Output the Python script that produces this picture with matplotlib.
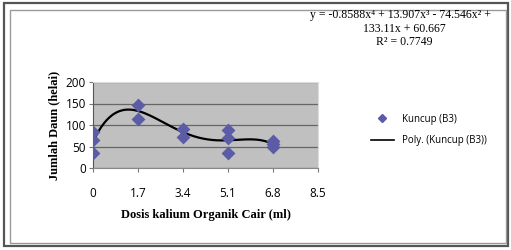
import numpy as np
import matplotlib
matplotlib.use('Agg')
import matplotlib.pyplot as plt
from matplotlib.patches import Rectangle
from matplotlib.lines import Line2D

# data (Kuncup B3)
dosis = [0, 0, 0, 1.7, 1.7, 3.4, 3.4, 5.1, 5.1, 5.1, 6.8, 6.8, 6.8]
daun = [83, 64, 36, 146, 113, 90, 72, 88, 69, 36, 62, 55, 48]

# trendline coefficients (from the equation on the chart)
koef = [-0.8588, 13.907, -74.546, 133.11, 60.667]

xticks = [0, 1.7, 3.4, 5.1, 6.8, 8.5]
yticks = [0, 50, 100, 150, 200]

serif = ['Liberation Serif', 'DejaVu Serif']
sans = 'Open Sans'
warna = '#5C5CA6'

fig = plt.figure(figsize=(5.11, 2.5), dpi=100)

# frame (double border)
fig.patches.append(Rectangle((4/511, 4/250), 504/511, 243/250, transform=fig.transFigure,
                             fill=False, edgecolor='#555555', lw=1.6))
fig.patches.append(Rectangle((10/511, 7/250), 496/511, 233/250, transform=fig.transFigure,
                             fill=False, edgecolor='#9a9a9a', lw=1.0))

ax = fig.add_axes([93/511, 82/250, 225/511, 86/250])
ax.set_facecolor('#C0C0C0')

xs = np.linspace(0, 6.8, 200)
ax.plot(xs, np.polyval(koef, xs), color='black', lw=1.6, zorder=3)
ax.scatter(dosis, daun, marker='D', s=50, color=warna, zorder=4, linewidths=0)

ax.set_xlim(0, 8.5)
ax.set_ylim(0, 200)
ax.set_xticks(xticks)
ax.set_xticklabels(['0', '1.7', '3.4', '5.1', '6.8', '8.5'], fontfamily=sans, fontsize=8.5)
ax.set_yticks(yticks)
ax.set_yticklabels([str(v) for v in yticks], fontfamily=sans, fontsize=8.5)
ax.tick_params(axis='x', length=3, pad=11, color='#777777')
ax.tick_params(axis='y', length=3, pad=2, color='#777777')
ax.grid(axis='y', color='#666666', lw=0.9)
ax.set_axisbelow(True)
for s in ['top', 'right']:
    ax.spines[s].set_color('#dddddd')
ax.spines['left'].set_color('#555555')
ax.spines['bottom'].set_color('#888888')

ax.set_xlabel('Dosis kalium Organik Cair (ml)', fontfamily=serif, fontweight='bold',
              fontsize=9, labelpad=6)
ax.set_ylabel('Jumlah Daun (helai)', fontfamily=serif, fontweight='bold', fontsize=9,
              labelpad=4)

# equation text
fig.text(400/511, 1 - 15/250, 'y = -0.8588x⁴ + 13.907x³ - 74.546x² +',
         ha='center', va='center', fontfamily=serif, fontsize=8.5)
fig.text(404/511, 1 - 29/250, '133.11x + 60.667', ha='center', va='center',
         fontfamily=serif, fontsize=8.5)
fig.text(404/511, 1 - 42/250, 'R² = 0.7749', ha='center', va='center',
         fontfamily=serif, fontsize=8.5)

# legend
h1 = Line2D([], [], marker='D', color=warna, ls='none', markersize=4.5)
h2 = Line2D([], [], color='black', lw=1.2)
fig.legend([h1, h2], ['Kuncup (B3)', 'Poly. (Kuncup (B3))'], loc='center left',
           bbox_to_anchor=(362/511, 1 - 130/250), frameon=False,
           prop={'family': sans, 'size': 7}, handlelength=2.4, labelspacing=1.1)

fig.savefig('out.png', dpi=100)
